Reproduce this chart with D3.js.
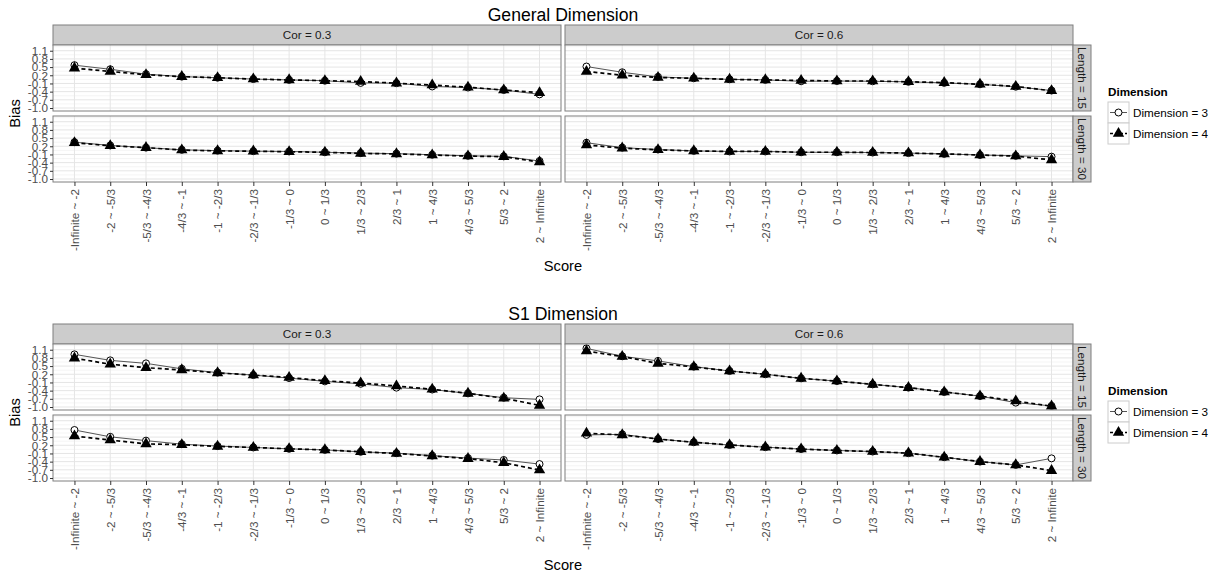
<!DOCTYPE html>
<html>
<head>
<meta charset="utf-8">
<script src="https://cdn.jsdelivr.net/npm/d3@7"></script>
<style>
  body { margin: 0; background: #fff; }
  svg { display: block; font-family: "Liberation Sans", Arial, sans-serif; }
</style>
</head>
<body>
<svg id="chart" width="1225" height="575"></svg>
<script>
// ---- categories and facet levels ----
const scoreBins = ["-Infinite ~ -2", "-2 ~ -5/3", "-5/3 ~ -4/3", "-4/3 ~ -1", "-1 ~ -2/3",
  "-2/3 ~ -1/3", "-1/3 ~ 0", "0 ~ 1/3", "1/3 ~ 2/3", "2/3 ~ 1", "1 ~ 4/3", "4/3 ~ 5/3",
  "5/3 ~ 2", "2 ~ Infinite"];
const corLevels = ["Cor = 0.3", "Cor = 0.6"];
const lengthLevels = ["Length = 15", "Length = 30"];
const dimensionLevels = ["Dimension = 3", "Dimension = 4"];
const yTickValues = [1.1, 0.8, 0.5, 0.2, -0.1, -0.4, -0.7, -1.0];
const plotTitles = ["General Dimension", "S1 Dimension"];

// ---- bias by score bin: General dimension ----
const generalCor03Len15Dim3 = [0.57, 0.42, 0.24, 0.15, 0.11, 0.06, 0.03, 0.00, -0.08, -0.09, -0.21, -0.25, -0.34, -0.50];
const generalCor03Len15Dim4 = [0.46, 0.34, 0.22, 0.15, 0.11, 0.06, 0.03, 0.00, -0.03, -0.09, -0.16, -0.24, -0.34, -0.44];
const generalCor03Len30Dim3 = [0.35, 0.23, 0.15, 0.07, 0.04, 0.02, 0.01, -0.02, -0.05, -0.07, -0.11, -0.15, -0.17, -0.34];
const generalCor03Len30Dim4 = [0.33, 0.22, 0.15, 0.06, 0.03, 0.02, 0.00, -0.02, -0.06, -0.08, -0.12, -0.16, -0.18, -0.38];
const generalCor06Len15Dim3 = [0.52, 0.31, 0.14, 0.09, 0.05, 0.03, -0.02, -0.01, -0.02, -0.04, -0.08, -0.13, -0.22, -0.36];
const generalCor06Len15Dim4 = [0.34, 0.20, 0.12, 0.09, 0.05, 0.03, 0.01, -0.01, -0.01, -0.04, -0.07, -0.13, -0.21, -0.37];
const generalCor06Len30Dim3 = [0.33, 0.15, 0.08, 0.03, 0.01, 0.01, -0.02, -0.02, -0.03, -0.05, -0.08, -0.12, -0.15, -0.18];
const generalCor06Len30Dim4 = [0.25, 0.13, 0.07, 0.03, 0.01, 0.01, -0.02, -0.02, -0.03, -0.05, -0.08, -0.12, -0.16, -0.30];

// ---- bias by score bin: S1 dimension ----
const s1Cor03Len15Dim3 = [0.93, 0.71, 0.60, 0.40, 0.26, 0.17, 0.06, -0.06, -0.15, -0.29, -0.36, -0.50, -0.66, -0.72];
const s1Cor03Len15Dim4 = [0.79, 0.57, 0.44, 0.36, 0.25, 0.17, 0.08, -0.04, -0.12, -0.23, -0.35, -0.50, -0.68, -0.94];
const s1Cor03Len30Dim3 = [0.76, 0.51, 0.37, 0.24, 0.17, 0.12, 0.07, 0.03, -0.04, -0.09, -0.18, -0.27, -0.34, -0.49];
const s1Cor03Len30Dim4 = [0.54, 0.39, 0.25, 0.22, 0.16, 0.12, 0.07, 0.03, -0.04, -0.10, -0.19, -0.29, -0.44, -0.71];
const s1Cor06Len15Dim3 = [1.15, 0.86, 0.69, 0.48, 0.32, 0.20, 0.05, -0.05, -0.17, -0.29, -0.45, -0.60, -0.84, -0.96];
const s1Cor06Len15Dim4 = [1.05, 0.85, 0.60, 0.47, 0.32, 0.20, 0.05, -0.05, -0.17, -0.29, -0.45, -0.60, -0.78, -0.97];
const s1Cor06Len30Dim3 = [0.58, 0.60, 0.43, 0.31, 0.21, 0.13, 0.06, 0.01, -0.03, -0.09, -0.24, -0.40, -0.52, -0.28];
const s1Cor06Len30Dim4 = [0.64, 0.58, 0.43, 0.31, 0.21, 0.13, 0.06, 0.01, -0.03, -0.09, -0.24, -0.40, -0.52, -0.73];

// panels[col][row] = [dimension 3 series, dimension 4 series]
const generalPanels = [
  [[generalCor03Len15Dim3, generalCor03Len15Dim4], [generalCor03Len30Dim3, generalCor03Len30Dim4]],
  [[generalCor06Len15Dim3, generalCor06Len15Dim4], [generalCor06Len30Dim3, generalCor06Len30Dim4]]
];
const s1Panels = [
  [[s1Cor03Len15Dim3, s1Cor03Len15Dim4], [s1Cor03Len30Dim3, s1Cor03Len30Dim4]],
  [[s1Cor06Len15Dim3, s1Cor06Len15Dim4], [s1Cor06Len30Dim3, s1Cor06Len30Dim4]]
];

// ---- layout ----
const svg = d3.select("#chart");
const L = { left: 53, panelW: 508, gapX: 4, stripH: 20, panelH: 66, gapY: 5, rowStripW: 18 };
const fontSmall = "11.7px";
const axisTextColor = "#4d4d4d";
const borderColor = "#7f7f7f";
const stripFill = "#cccccc";

const x = d3.scalePoint().domain(scoreBins).range([0, L.panelW]).padding(0.6);
const y = d3.scaleLinear().domain([-1.11, 1.31]).range([L.panelH, 0]);
const minorTicks = d3.range(0, yTickValues.length + 1).map(i => 1.25 - 0.3 * i).filter(v => v >= -1.11 && v <= 1.31);

const seriesStyle = [
  { stroke: "#555555", width: 1, dash: null, shape: "circle" },
  { stroke: "#000000", width: 1.7, dash: "4,3", shape: "triangle" }
];

const line = d3.line().x((d, i) => x(scoreBins[i])).y(d => y(d));
const triangle = d3.symbol().type(d3.symbolTriangle).size(56);

function drawMarker(g, shape, cx, cy) {
  if (shape === "circle") {
    g.append("circle").attr("cx", cx).attr("cy", cy).attr("r", 3.5)
      .attr("fill", "#fff").attr("stroke", "#000").attr("stroke-width", 1);
  } else {
    g.append("path").attr("d", triangle()).attr("transform", `translate(${cx},${cy})`)
      .attr("fill", "#000");
  }
}

function drawBlock(title, panels, top) {
  const g = svg.append("g");
  const totalW = 2 * L.panelW + L.gapX;
  const rowsBottom = top + L.stripH + 2 * L.panelH + L.gapY;

  g.append("text").attr("x", L.left + totalW / 2).attr("y", top - 4)
    .attr("text-anchor", "middle").style("font-size", "17.6px").attr("fill", "#000").text(title);

  corLevels.forEach((cor, c) => {
    const px = L.left + c * (L.panelW + L.gapX);
    // column strip
    g.append("rect").attr("x", px).attr("y", top).attr("width", L.panelW).attr("height", L.stripH)
      .attr("fill", stripFill).attr("stroke", borderColor).attr("stroke-width", 1);
    g.append("text").attr("x", px + L.panelW / 2).attr("y", top + L.stripH / 2).attr("dy", "0.35em")
      .attr("text-anchor", "middle").style("font-size", fontSmall).attr("fill", "#1a1a1a").text(cor);

    lengthLevels.forEach((len, r) => {
      const py = top + L.stripH + r * (L.panelH + L.gapY);
      const pg = g.append("g").attr("transform", `translate(${px},${py})`);
      pg.append("rect").attr("width", L.panelW).attr("height", L.panelH).attr("fill", "#fff");
      // grid
      pg.selectAll(".minor").data(minorTicks).join("line")
        .attr("x1", 0).attr("x2", L.panelW).attr("y1", d => y(d)).attr("y2", d => y(d))
        .attr("stroke", "#f2f2f2").attr("stroke-width", 0.8);
      pg.selectAll(".majorY").data(yTickValues).join("line")
        .attr("x1", 0).attr("x2", L.panelW).attr("y1", d => y(d)).attr("y2", d => y(d))
        .attr("stroke", "#e5e5e5").attr("stroke-width", 1);
      pg.selectAll(".majorX").data(scoreBins).join("line")
        .attr("y1", 0).attr("y2", L.panelH).attr("x1", d => x(d)).attr("x2", d => x(d))
        .attr("stroke", "#e5e5e5").attr("stroke-width", 1);

      const series = panels[c][r];
      // lines first, then points (dimension 4 on top)
      series.forEach((vals, s) => {
        const st = seriesStyle[s];
        pg.append("path").attr("d", line(vals)).attr("fill", "none")
          .attr("stroke", st.stroke).attr("stroke-width", st.width)
          .attr("stroke-dasharray", st.dash);
      });
      series.forEach((vals, s) => {
        vals.forEach((v, i) => drawMarker(pg, seriesStyle[s].shape, x(scoreBins[i]), y(v)));
      });

      pg.append("rect").attr("width", L.panelW).attr("height", L.panelH)
        .attr("fill", "none").attr("stroke", borderColor).attr("stroke-width", 1);

      if (c === 1) {
        const sx = px + L.panelW;
        g.append("rect").attr("x", sx).attr("y", py).attr("width", L.rowStripW).attr("height", L.panelH)
          .attr("fill", stripFill).attr("stroke", borderColor).attr("stroke-width", 1);
        g.append("text").attr("transform", `translate(${sx + L.rowStripW / 2},${py + L.panelH / 2}) rotate(90)`)
          .attr("dy", "0.35em").attr("text-anchor", "middle").style("font-size", fontSmall)
          .attr("fill", "#1a1a1a").text(len);
      }

      if (c === 0) {
        const ya = g.append("g").attr("transform", `translate(${px},${py})`)
          .call(d3.axisLeft(y).tickValues(yTickValues).tickFormat(v => v.toFixed(1)).tickSize(3).tickPadding(2));
        ya.select(".domain").remove();
        ya.selectAll("line").attr("stroke", "#333");
        ya.selectAll("text").style("font-size", fontSmall).attr("fill", axisTextColor)
          .style("font-family", "'Liberation Sans', Arial, sans-serif");
      }

      if (r === 1) {
        const xa = g.append("g").attr("transform", `translate(${px},${py + L.panelH})`)
          .call(d3.axisBottom(x).tickSize(4));
        xa.select(".domain").remove();
        xa.selectAll("line").attr("stroke", "#333");
        xa.selectAll("text").style("font-size", fontSmall).attr("fill", axisTextColor)
          .style("font-family", "'Liberation Sans', Arial, sans-serif")
          .attr("transform", "rotate(-90)").attr("text-anchor", "end")
          .attr("x", -7).attr("y", 0).attr("dy", "0.35em");
      }
    });
  });

  // axis titles
  const panelsMid = top + L.stripH + (2 * L.panelH + L.gapY) / 2;
  g.append("text").attr("transform", `translate(20,${panelsMid}) rotate(-90)`)
    .attr("text-anchor", "middle").style("font-size", "14.7px").attr("fill", "#000").text("Bias");
  g.append("text").attr("x", L.left + totalW / 2).attr("y", rowsBottom + 89)
    .attr("text-anchor", "middle").style("font-size", "14.7px").attr("fill", "#000").text("Score");

  // legend
  const lx = 1108, ly = top + 77;
  const lg = g.append("g");
  lg.append("text").attr("x", lx).attr("y", ly - 6).style("font-size", fontSmall)
    .style("font-weight", "bold").attr("fill", "#000").text("Dimension");
  dimensionLevels.forEach((lab, s) => {
    const ky = ly + s * 21;
    const st = seriesStyle[s];
    lg.append("rect").attr("x", lx).attr("y", ky).attr("width", 21).attr("height", 21)
      .attr("fill", "#fff").attr("stroke", "#cccccc").attr("stroke-width", 1);
    lg.append("line").attr("x1", lx + 2).attr("x2", lx + 19).attr("y1", ky + 10.5).attr("y2", ky + 10.5)
      .attr("stroke", st.stroke).attr("stroke-width", st.width).attr("stroke-dasharray", st.dash ? "3,2" : null);
    drawMarker(lg, st.shape, lx + 10.5, ky + 10.5);
    lg.append("text").attr("x", lx + 25).attr("y", ky + 10.5).attr("dy", "0.35em")
      .style("font-size", fontSmall).attr("fill", "#000").text(lab);
  });
}

drawBlock(plotTitles[0], generalPanels, 25);
drawBlock(plotTitles[1], s1Panels, 324);
</script>
</body>
</html>
